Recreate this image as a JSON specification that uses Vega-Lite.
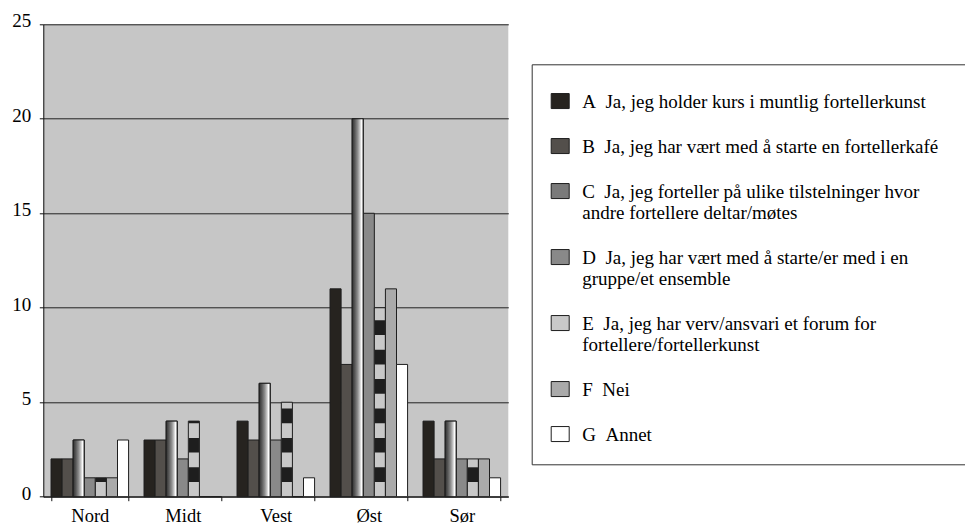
{
  "$schema": "https://vega.github.io/schema/vega-lite/v6.json",
  "autosize": {"type": "none"},
  "width": 465,
  "height": 472.4,
  "padding": {"left": 43.3, "top": 24.3, "right": 456.7, "bottom": 28.3},
  "background": "white",
  "config": {
    "font": "Liberation Serif",
    "view": {"fill": "#c6c6c6", "stroke": null},
    "style": {"guide-label": {"font": "Liberation Serif"}},
    "axis": {
      "labelFont": "Liberation Serif",
      "labelColor": "black",
      "domainColor": "#111111",
      "domainWidth": 1,
      "tickColor": "#111111",
      "tickSize": 4
    },
    "legend": {
      "labelFont": "Liberation Serif",
      "labelFontSize": 19,
      "labelColor": "black"
    }
  },
  "data": {
    "values": [
      {"region": "Nord", "kategori": "A", "antall": 2},
      {"region": "Nord", "kategori": "B", "antall": 2},
      {"region": "Nord", "kategori": "C", "antall": 3},
      {"region": "Nord", "kategori": "D", "antall": 1},
      {"region": "Nord", "kategori": "E", "antall": 1},
      {"region": "Nord", "kategori": "F", "antall": 1},
      {"region": "Nord", "kategori": "G", "antall": 3},
      {"region": "Midt", "kategori": "A", "antall": 3},
      {"region": "Midt", "kategori": "B", "antall": 3},
      {"region": "Midt", "kategori": "C", "antall": 4},
      {"region": "Midt", "kategori": "D", "antall": 2},
      {"region": "Midt", "kategori": "E", "antall": 4},
      {"region": "Midt", "kategori": "F", "antall": 0},
      {"region": "Midt", "kategori": "G", "antall": 0},
      {"region": "Vest", "kategori": "A", "antall": 4},
      {"region": "Vest", "kategori": "B", "antall": 3},
      {"region": "Vest", "kategori": "C", "antall": 6},
      {"region": "Vest", "kategori": "D", "antall": 3},
      {"region": "Vest", "kategori": "E", "antall": 5},
      {"region": "Vest", "kategori": "F", "antall": 0},
      {"region": "Vest", "kategori": "G", "antall": 1},
      {"region": "Øst", "kategori": "A", "antall": 11},
      {"region": "Øst", "kategori": "B", "antall": 7},
      {"region": "Øst", "kategori": "C", "antall": 20},
      {"region": "Øst", "kategori": "D", "antall": 15},
      {"region": "Øst", "kategori": "E", "antall": 10},
      {"region": "Øst", "kategori": "F", "antall": 11},
      {"region": "Øst", "kategori": "G", "antall": 7},
      {"region": "Sør", "kategori": "A", "antall": 4},
      {"region": "Sør", "kategori": "B", "antall": 2},
      {"region": "Sør", "kategori": "C", "antall": 4},
      {"region": "Sør", "kategori": "D", "antall": 2},
      {"region": "Sør", "kategori": "E", "antall": 2},
      {"region": "Sør", "kategori": "F", "antall": 2},
      {"region": "Sør", "kategori": "G", "antall": 1}
    ]
  },
  "layer": [
    {
      "mark": {"type": "bar", "stroke": "#1e1e1e", "strokeWidth": 1},
      "encoding": {
        "x": {
          "field": "region",
          "type": "nominal",
          "sort": ["Nord", "Midt", "Vest", "Øst", "Sør"],
          "scale": {"paddingInner": 0.166, "paddingOuter": 0.083},
          "axis": {
            "title": null,
            "labelAngle": 0,
            "labelFontSize": 18.5,
            "labelBaseline": "alphabetic",
            "labelPadding": 21,
            "tickBand": "extent",
            "grid": false
          }
        },
        "xOffset": {
          "field": "kategori",
          "type": "nominal",
          "scale": {"domain": ["A", "B", "C", "D", "E", "F", "G"], "paddingInner": 0, "paddingOuter": 0}
        },
        "y": {
          "field": "antall",
          "type": "quantitative",
          "scale": {"domain": [0, 25], "nice": false},
          "axis": {
            "title": null,
            "values": [0, 5, 10, 15, 20, 25],
            "grid": true,
            "gridColor": "#222222",
            "gridWidth": 1,
            "gridOpacity": 1,
            "labelFontSize": 19,
            "labelBaseline": "alphabetic",
            "labelOffset": 2.5,
            "labelPadding": 8.6
          }
        },
        "color": {
          "field": "kategori",
          "type": "nominal",
          "scale": {
            "domain": ["A", "B", "C", "D", "E", "F", "G"],
            "range": ["#26231f", "#534f4b", "#7a7a7a", "#898989", "#c8c8c8", "#aaaaaa", "#ffffff"]
          },
          "legend": {
            "orient": "none",
            "legendX": 488.4,
            "legendY": 40,
            "direction": "vertical",
            "title": null,
            "padding": 19,
            "fillColor": "white",
            "strokeColor": "#333333",
            "symbolType": "M-1.2,0.1H1.2V2.1H-1.2ZM56,1",
            "symbolSize": 225,
            "symbolStrokeColor": "#1e1e1e",
            "symbolStrokeWidth": 1,
            "symbolOpacity": 1,
            "labelFont": "Liberation Serif",
            "labelFontSize": 19,
            "labelColor": "black",
            "labelBaseline": "top",
            "labelOffset": 12.5,
            "labelLimit": 1000,
            "rowPadding": 16,
            "labelExpr": "datum.label == 'A' ? 'A\u00a0\u00a0Ja, jeg holder kurs i muntlig fortellerkunst' : datum.label == 'B' ? 'B\u00a0\u00a0Ja, jeg har vært med å starte en fortellerkafé' : datum.label == 'C' ? ['C\u00a0\u00a0Ja, jeg forteller på ulike tilstelninger hvor', '\u00a0\u00a0\u00a0\u00a0andre fortellere deltar/møtes'] : datum.label == 'D' ? ['D\u00a0\u00a0Ja, jeg har vært med å starte/er med i en', '\u00a0\u00a0\u00a0\u00a0gruppe/et ensemble'] : datum.label == 'E' ? ['E\u00a0\u00a0Ja, jeg har verv/ansvari et forum for', '\u00a0\u00a0\u00a0\u00a0fortellere/fortellerkunst'] : datum.label == 'F' ? 'F\u00a0\u00a0Nei' : 'G\u00a0\u00a0Annet'"
          }
        }
      }
    },
    {
      "transform": [{"filter": "datum.kategori === 'C'"}],
      "mark": {
        "type": "bar",
        "stroke": "#1e1e1e",
        "strokeWidth": 1,
        "fill": {"gradient": "linear", "x1": 0, "y1": 0, "x2": 1, "y2": 0, "stops": [
          {"offset": 0, "color": "#2f2f2f"},
          {"offset": 0.25, "color": "#5a5a5a"},
          {"offset": 0.5, "color": "#8e8e8e"},
          {"offset": 0.7, "color": "#c8c8c8"},
          {"offset": 0.85, "color": "#ffffff"},
          {"offset": 1, "color": "#9a9a9a"}
        ]}
      },
      "encoding": {
        "x": {"field": "region", "type": "nominal", "sort": ["Nord", "Midt", "Vest", "Øst", "Sør"]},
        "xOffset": {"field": "kategori", "type": "nominal", "scale": {"domain": ["A", "B", "C", "D", "E", "F", "G"]}},
        "y": {"field": "antall", "type": "quantitative"}
      }
    },
    {
      "transform": [{"filter": "datum.kategori === 'E'"}],
      "mark": {"type": "rule", "color": "#1e1e1e", "strokeWidth": 10.2, "strokeDash": [14.7, 14.7], "strokeDashOffset": 14.7},
      "encoding": {
        "x": {"field": "region", "type": "nominal", "sort": ["Nord", "Midt", "Vest", "Øst", "Sør"]},
        "xOffset": {"field": "kategori", "type": "nominal", "scale": {"domain": ["A", "B", "C", "D", "E", "F", "G"]}},
        "y": {"datum": 0, "type": "quantitative"},
        "y2": {"field": "antall", "type": "quantitative"}
      }
    }
  ]
}
